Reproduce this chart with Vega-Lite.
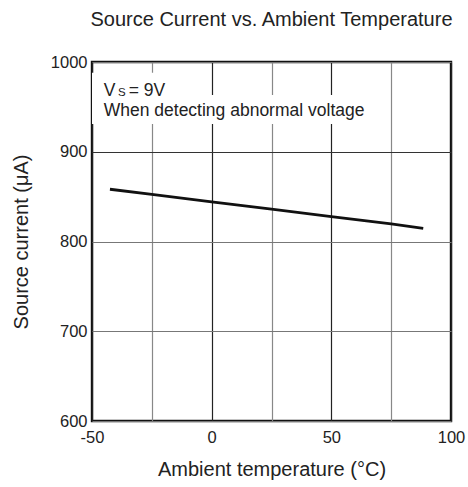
{
  "$schema": "https://vega.github.io/schema/vega-lite/v6.json",
  "width": 359,
  "height": 359,
  "autosize": "none",
  "padding": {"left": 92, "top": 62, "right": 17, "bottom": 66},
  "background": "white",
  "config": {
    "font": "Liberation Sans",
    "view": {"stroke": "#111", "strokeWidth": 2.4},
    "axis": {"labelColor": "#222", "titleColor": "#222", "labelFont": "Liberation Sans", "titleFont": "Liberation Sans"}
  },
  "title": {
    "text": "Source Current vs. Ambient Temperature",
    "fontSize": 20,
    "fontWeight": "normal",
    "color": "#222",
    "offset": 24,
    "anchor": "middle"
  },
  "datasets": {
    "curve": [
      {"temp": -42.5, "current": 858.2},
      {"temp": -25, "current": 852.6},
      {"temp": 0, "current": 844.2},
      {"temp": 25, "current": 836.0},
      {"temp": 50, "current": 827.7},
      {"temp": 75, "current": 819.6},
      {"temp": 88.4, "current": 814.7}
    ],
    "mask": [
      {"x1": -50, "x2": -19.5, "y1": 988.1, "y2": 963.2},
      {"x1": -50, "x2": 67, "y1": 963.2, "y2": 930.9}
    ],
    "notes": [
      {"part": "main", "x": -45.1, "y": 962.1, "label": "V"},
      {"part": "sub", "x": -45.1, "y": 962.1, "label": "S"},
      {"part": "rest", "x": -45.1, "y": 962.1, "label": "= 9V"},
      {"part": "main", "x": -45.1, "y": 940.2, "label": "When detecting abnormal voltage"}
    ]
  },
  "layer": [
    {
      "data": {"name": "mask"},
      "mark": {"type": "rect", "fill": "white", "stroke": null},
      "encoding": {
        "x": {
          "field": "x1", "type": "quantitative",
          "scale": {"domain": [-50, 100], "nice": false, "zero": false},
          "axis": {
            "values": [-50, -25, 0, 25, 50, 75, 100],
            "labelExpr": "datum.value % 50 === 0 ? '' + datum.value : ''",
            "ticks": false,
            "domain": false,
            "labelFlush": false,
            "labelFontSize": 16.5,
            "labelPadding": 8,
            "labelOverlap": false,
            "title": "Ambient temperature (°C)",
            "titleFontSize": 20,
            "titleFontWeight": "normal",
            "titlePadding": 14,
            "gridWidth": 1.2,
            "gridOpacity": 1,
            "gridColor": {"condition": {"test": "datum.value % 50 === 0", "value": "#222"}, "value": "#888"}
          }
        },
        "x2": {"field": "x2"},
        "y": {
          "field": "y1", "type": "quantitative",
          "scale": {"domain": [600, 1000], "nice": false, "zero": false},
          "axis": {
            "values": [600, 700, 800, 900, 1000],
            "labelExpr": "'' + datum.value",
            "ticks": false,
            "domain": false,
            "labelFontSize": 16.5,
            "labelPadding": 5,
            "title": "Source current (μA)",
            "titleFontSize": 20,
            "titleFontWeight": "normal",
            "titlePadding": 19,
            "gridWidth": 1.2,
            "gridOpacity": 1,
            "gridColor": {"condition": {"test": "datum.value === 900", "value": "#333"}, "value": "#777"}
          }
        },
        "y2": {"field": "y2"}
      }
    },
    {
      "data": {"name": "curve"},
      "mark": {"type": "line", "color": "#111", "strokeWidth": 2.8},
      "encoding": {
        "x": {"field": "temp", "type": "quantitative"},
        "y": {"field": "current", "type": "quantitative"}
      }
    },
    {
      "data": {"name": "notes"},
      "transform": [{"filter": "datum.part === 'main'"}],
      "mark": {"type": "text", "align": "left", "baseline": "alphabetic", "fontSize": 17.5, "color": "#222"},
      "encoding": {
        "x": {"field": "x", "type": "quantitative"},
        "y": {"field": "y", "type": "quantitative"},
        "text": {"field": "label"}
      }
    },
    {
      "data": {"name": "notes"},
      "transform": [{"filter": "datum.part === 'sub'"}],
      "mark": {"type": "text", "align": "left", "baseline": "alphabetic", "fontSize": 11.5, "dx": 14.3, "color": "#222"},
      "encoding": {
        "x": {"field": "x", "type": "quantitative"},
        "y": {"field": "y", "type": "quantitative"},
        "text": {"field": "label"}
      }
    },
    {
      "data": {"name": "notes"},
      "transform": [{"filter": "datum.part === 'rest'"}],
      "mark": {"type": "text", "align": "left", "baseline": "alphabetic", "fontSize": 17.5, "dx": 25, "color": "#222"},
      "encoding": {
        "x": {"field": "x", "type": "quantitative"},
        "y": {"field": "y", "type": "quantitative"},
        "text": {"field": "label"}
      }
    }
  ]
}
